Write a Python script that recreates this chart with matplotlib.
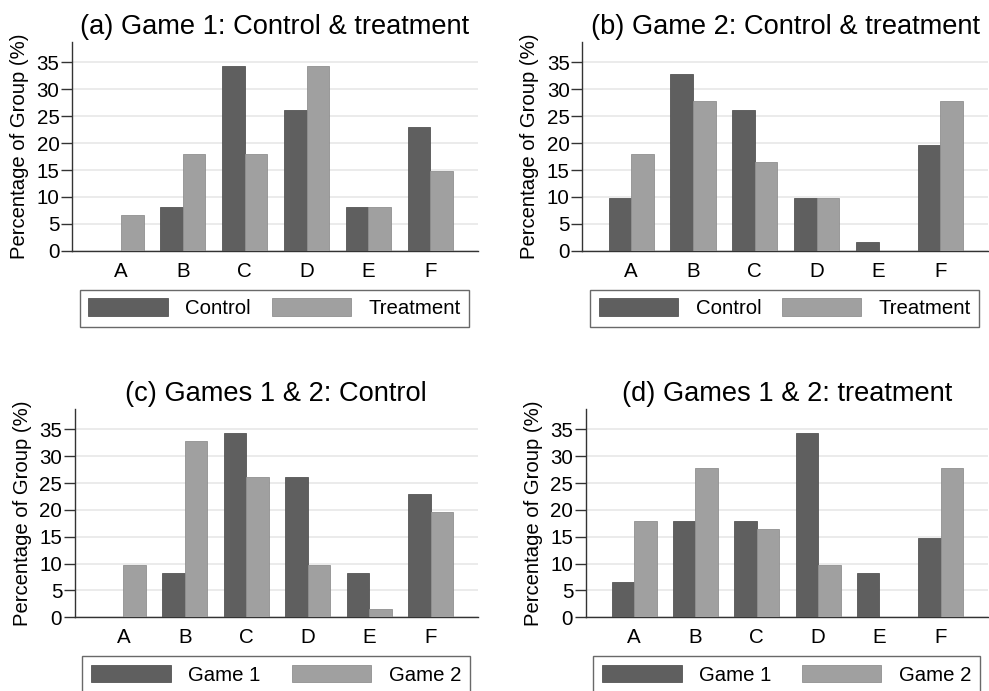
import numpy as np
import matplotlib
matplotlib.use('Agg')
import matplotlib.pyplot as plt

plt.rcParams['font.family'] = ['Liberation Sans', 'DejaVu Sans']

categories = ['A', 'B', 'C', 'D', 'E', 'F']
g1_control   = [0.0, 8.2, 34.4, 26.2, 8.2, 23.0]
g1_treatment = [6.6, 18.0, 18.0, 34.4, 8.2, 14.8]
g2_control   = [9.8, 32.8, 26.2, 9.8, 1.6, 19.7]
g2_treatment = [18.0, 27.9, 16.4, 9.8, 0.0, 27.9]
yticks = [0, 5, 10, 15, 20, 25, 30, 35]

DARK = '#5f5f5f'
LIGHT = '#a0a0a0'

W, H = 989, 691
fig = plt.figure(figsize=(W / 100, H / 100), dpi=100)

# axes boxes in pixels (left, top, width, height), top-left origin
boxes = [(72, 42, 406, 208.7), (582.3, 42, 405.7, 208.7),
         (74.7, 409, 403.3, 208.3), (585.7, 409, 402.3, 208.3)]
panels = [
    ('(a) Game 1: Control & treatment', g1_control, g1_treatment, 'Control', 'Treatment'),
    ('(b) Game 2: Control & treatment', g2_control, g2_treatment, 'Control', 'Treatment'),
    ('(c) Games 1 & 2: Control', g1_control, g2_control, 'Game 1', 'Game 2'),
    ('(d) Games 1 & 2: treatment', g1_treatment, g2_treatment, 'Game 1', 'Game 2'),
]

x = np.arange(len(categories))
bw = 0.366
for (px, py, pw, ph), (title, s1, s2, l1, l2) in zip(boxes, panels):
    ax = fig.add_axes([px / W, (H - py - ph) / H, pw / W, ph / H])
    ax.bar(x - bw / 2, s1, bw, color=DARK, edgecolor='#555555', linewidth=0.6, label=l1, zorder=3)
    ax.bar(x + bw / 2, s2, bw, color=LIGHT, edgecolor='#909090', linewidth=0.6, label=l2, zorder=3)
    ax.set_xlim(-0.79, 5.77)
    ax.set_ylim(0, 38.8)
    ax.set_yticks(yticks)
    ax.set_xticks(x)
    ax.set_xticklabels(categories)
    ax.tick_params(axis='y', labelsize=14.8, length=8, width=1, pad=1, color='#333333')
    ax.tick_params(axis='x', labelsize=14.8, length=0, pad=8)
    ax.grid(axis='y', color='#e8e8e8', linewidth=1.2, zorder=0)
    for side in ['top', 'right']:
        ax.spines[side].set_visible(False)
    for side in ['left', 'bottom']:
        ax.spines[side].set_color('#333333')
        ax.spines[side].set_linewidth(1)
    ax.set_ylabel('Percentage of Group (%)', fontsize=14.6)
    ax.yaxis.set_label_coords(-0.106, 0.5)
    ax.set_title(title, fontsize=19.6, pad=6)
    leg = ax.legend(loc='upper center', bbox_to_anchor=(0.019, -0.187, 0.96, 0.0),
                    mode='expand', ncol=2, fontsize=14.7, frameon=True, fancybox=False,
                    borderaxespad=0, handlelength=3.9, handleheight=0.95,
                    handletextpad=0.85, borderpad=0.42, edgecolor='#444444')
    leg.get_frame().set_linewidth(1)

plt.savefig('out.png', dpi=100)
